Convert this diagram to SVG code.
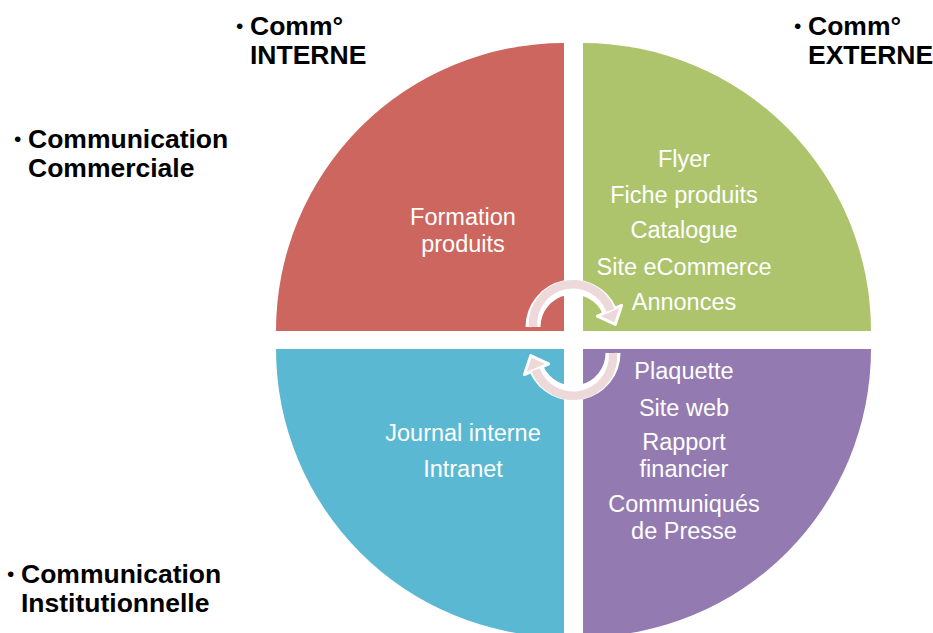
<svg xmlns="http://www.w3.org/2000/svg" width="933" height="633" viewBox="0 0 933 633">
<style>
.q text{font-family:"Liberation Sans",Arial,sans-serif;font-size:23.5px;fill:#fff;text-anchor:middle}
.lab{font-family:"Liberation Sans",Arial,sans-serif;font-size:26.5px;font-weight:bold;fill:#000}
.bul{font-family:"Liberation Sans",Arial,sans-serif;font-size:21px;fill:#000}
.arcw{fill:none;stroke:#fff;stroke-width:15}
.arcp{fill:none;stroke:#EDD8DA;stroke-width:8.5}
.head{fill:#EDD8DA;stroke:#fff;stroke-width:3;stroke-linejoin:round}
</style>
<rect width="933" height="633" fill="#fff"/>
<g id="q-interne-commerciale" class="q">
<path d="M564,331 L276,331 A288,288 0 0 1 564,43 Z" fill="#CC665F"/>
<text x="463" y="225">Formation</text>
<text x="463" y="252">produits</text>
</g>
<g id="q-externe-commerciale" class="q">
<path d="M583,331 L583,43 A288,288 0 0 1 871,331 Z" fill="#ADC46D"/>
<text x="684" y="167">Flyer</text>
<text x="684" y="203">Fiche produits</text>
<text x="684" y="238">Catalogue</text>
<text x="684" y="275">Site eCommerce</text>
<text x="684" y="310">Annonces</text>
</g>
<g id="q-interne-institutionnelle" class="q">
<path d="M564,349 L564,637 A288,288 0 0 1 276,349 Z" fill="#5BB8D2"/>
<text x="463" y="441">Journal interne</text>
<text x="463" y="477">Intranet</text>
</g>
<g id="q-externe-institutionnelle" class="q">
<path d="M583,349 L871,349 A288,288 0 0 1 583,637 Z" fill="#937BB1"/>
<text x="684" y="379">Plaquette</text>
<text x="684" y="416">Site web</text>
<text x="684" y="450">Rapport</text>
<text x="684" y="477">financier</text>
<text x="684" y="512">Communiqués</text>
<text x="684" y="539">de Presse</text>
</g>
<g id="connectors">
<path class="arcw" d="M533,327 A40,40 0 0 1 609.5,310.7"/>
<path class="arcw" d="M613,353 A40,40 0 0 1 536.5,369.3"/>
<polygon class="head" points="621.6,305.4 597.4,316.2 615.3,324.4"/>
<polygon class="head" points="524.4,374.6 548.6,363.8 530.7,355.6"/>
<path class="arcp" d="M533,327 A40,40 0 0 1 610.4,310.3"/>
<path class="arcp" d="M613,353 A40,40 0 0 1 535.6,369.7"/>
</g>
<g id="label-comm-interne">
<text class="bul" x="236" y="33">•</text>
<text class="lab" x="250" y="35">Comm°</text>
<text class="lab" x="250" y="64">INTERNE</text>
</g>
<g id="label-comm-externe">
<text class="bul" x="794" y="33">•</text>
<text class="lab" x="808" y="35">Comm°</text>
<text class="lab" x="808" y="64">EXTERNE</text>
</g>
<g id="label-commerciale">
<text class="bul" x="14" y="146">•</text>
<text class="lab" x="28" y="148">Communication</text>
<text class="lab" x="28" y="177">Commerciale</text>
</g>
<g id="label-institutionnelle">
<text class="bul" x="7" y="581">•</text>
<text class="lab" x="21" y="583">Communication</text>
<text class="lab" x="21" y="612">Institutionnelle</text>
</g>
</svg>
